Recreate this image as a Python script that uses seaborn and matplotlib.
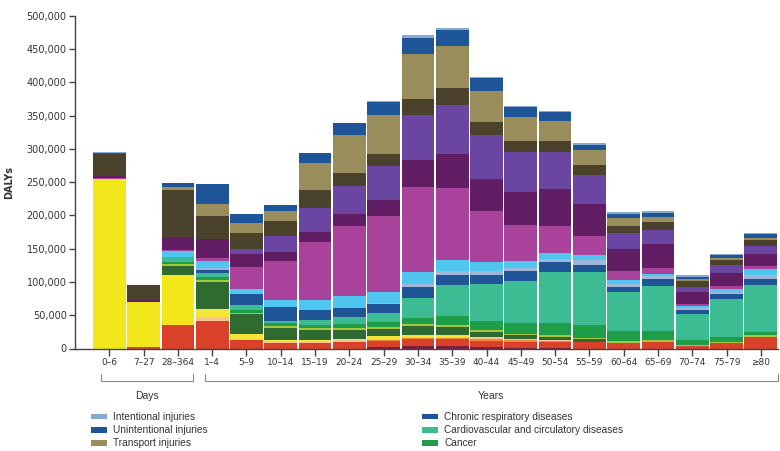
import pandas as pd
import seaborn as sns
import matplotlib.pyplot as plt
import matplotlib.transforms as mtransforms
from matplotlib.patches import Patch
from matplotlib.ticker import FuncFormatter

age_groups = ["0–6", "7–27", "28–364", "1–4", "5–9", "10–14", "15–19", "20–24",
              "25–29", "30–34", "35–39", "40–44", "45–49", "50–54", "55–59",
              "60–64", "65–69", "70–74", "75–79", "≥80"]

# causes, bottom of the stack first
causes = ["HIV/AIDS and tuberculosis",
          "Diarrhoea, lower respiratory and other common infections",
          "Neglected tropical diseases and malaria",
          "Maternal disorders",
          "Neonatal disorders",
          "Nutritional deficiencies",
          "Other infectious diseases",
          "Other communicable conditions",
          "Cancer",
          "Cardiovascular and circulatory diseases",
          "Chronic respiratory diseases",
          "Cirrhosis of the liver",
          "Digestive diseases",
          "Mental and behavioural disorders",
          "Diabetes, urogenital, blood and endocrine diseases",
          "Musculoskeletal disorders",
          "Other non-communicable diseases",
          "Transport injuries",
          "Unintentional injuries",
          "Intentional injuries"]

colours = ["#7d1d3f", "#d9412b", "#ef8a3c", "#f7c391", "#f2e71b", "#f4e53a",
           "#2f6b31", "#a8c63c", "#1f9e4a", "#3dbb92", "#1f5596", "#9db6d9",
           "#4ec6ef", "#a8429a", "#621e64", "#6a45a2", "#4a422a", "#9a8d5c",
           "#1e5598", "#88a9d2"]

hiv_tb = [0, 0, 0, 0, 0, 0, 0, 0, 2500, 4000, 4000, 2000, 1500, 1000, 0, 0, 0, 0, 0, 0]
common_infections = [0, 2500, 35000, 41500, 13500, 8500, 8500, 10500, 9000, 11000, 11000,
                     10000, 9000, 9000, 10000, 9000, 10000, 4500, 8500, 17500]
ntd_malaria = [0, 0, 0, 0, 0, 0, 0, 0, 1500, 1500, 1500, 2500, 2000, 2000, 0, 0, 0, 0, 0, 0]
maternal = [0, 0, 0, 6000, 1500, 1000, 2000, 2000, 2000, 1000, 1500, 2500, 1500, 1500,
            0, 0, 0, 0, 0, 0]
neonatal = [254000, 67000, 75000, 0, 0, 0, 0, 0, 0, 0, 0, 0, 0, 0, 0, 0, 0, 0, 0, 0]
nutritional = [0, 0, 0, 12500, 6500, 3500, 3000, 2500, 3500, 3500, 3000, 0, 0, 0, 0, 0,
               0, 0, 0, 0]
other_infectious = [0, 0, 13500, 40000, 30000, 18500, 15000, 13500, 11500, 12500, 11500,
                    8000, 6500, 4000, 4000, 0, 0, 0, 0, 0]
other_communicable = [0, 0, 3000, 3500, 2500, 2500, 2500, 2500, 2000, 3000, 2500, 2500,
                      2000, 2500, 2000, 2000, 2500, 1500, 1500, 2500]
cancer = [0, 0, 3000, 4000, 3500, 4000, 4000, 5500, 7500, 9500, 13500, 14500, 16500,
          18500, 20000, 15000, 13500, 6500, 7500, 5000]
cardiovascular = [0, 0, 7500, 6500, 7500, 4000, 7500, 11000, 13500, 30000, 46500, 55000,
                  62500, 76500, 79000, 59000, 67500, 40000, 56500, 70000]
chronic_respiratory = [0, 0, 0, 3500, 16500, 20000, 16000, 14000, 14000, 16500, 16000,
                       14000, 15000, 15000, 11000, 7500, 11500, 5000, 7500, 10000]
cirrhosis = [0, 0, 0, 4000, 0, 0, 0, 0, 1500, 4000, 5000, 5000, 5000, 4500, 6500, 5000,
             4000, 3500, 3500, 5000]
digestive = [0, 0, 9000, 10000, 8500, 11000, 15000, 17500, 16500, 18500, 16500, 14000,
             10000, 9000, 8500, 5000, 3500, 3000, 4000, 10000]
mental = [2000, 0, 2000, 5000, 32500, 59000, 86500, 104500, 113500, 127500, 109000,
          76000, 54000, 41000, 27500, 14000, 8500, 3500, 4500, 3500]
diabetes_urogenital = [2500, 3000, 20000, 27500, 20000, 13500, 14500, 19000, 24000, 40000,
                       51000, 49000, 50000, 55000, 49000, 33500, 35500, 17500, 20500, 19000]
musculoskeletal = [0, 0, 0, 0, 6500, 24000, 37000, 41000, 51500, 68500, 74000, 66000,
                   60000, 55500, 42500, 23500, 22000, 7500, 11000, 11500]
other_ncd = [33500, 22500, 70000, 34500, 24500, 22500, 26000, 20500, 18500, 24000, 25000,
             19000, 17000, 17000, 15000, 10500, 11500, 8500, 8500, 9500]
transport = [0, 0, 4000, 18000, 15500, 14000, 41500, 57000, 59000, 67500, 62500, 47500,
             35500, 30500, 22500, 12500, 7500, 3000, 3000, 3000]
unintentional = [1500, 0, 6500, 30000, 13500, 10000, 14500, 18000, 19500, 23500, 24000,
                 18500, 14500, 12500, 8500, 6000, 6000, 3500, 3500, 5000]
intentional = [1000, 0, 0, 0, 0, 0, 0, 0, 1500, 5000, 3500, 2500, 2500, 2500, 2500, 2500,
               2500, 2500, 2500, 2500]

series = [hiv_tb, common_infections, ntd_malaria, maternal, neonatal, nutritional,
          other_infectious, other_communicable, cancer, cardiovascular,
          chronic_respiratory, cirrhosis, digestive, mental, diabetes_urogenital,
          musculoskeletal, other_ncd, transport, unintentional, intentional]

legend_causes = [["Intentional injuries", "Unintentional injuries", "Transport injuries"],
                 ["Chronic respiratory diseases", "Cardiovascular and circulatory diseases",
                  "Cancer"]]

rows = []
for cause, vals in zip(causes, series):
    for age, v in zip(age_groups, vals):
        rows.append({"age": age, "cause": cause, "dalys": v})
df = pd.DataFrame(rows)
palette = dict(zip(causes, colours))

sns.set_style("ticks")
plt.rcParams["font.family"] = ["DejaVu Sans"]

fig = plt.figure(figsize=(7.8, 4.51), dpi=100)
ax = fig.add_axes([75 / 780, 1 - 348.5 / 451, 703 / 780, 332.8 / 451])

# seaborn stacks the last hue level at the bottom
sns.histplot(data=df, x="age", weights="dalys", hue="cause", hue_order=causes[::-1],
             multiple="stack", discrete=True, shrink=0.955, palette=palette,
             alpha=1, linewidth=0, legend=False, ax=ax)

ax.set_xlim(-1.0, 19.5)
ax.set_ylim(0, 500000)
ax.set_yticks(range(0, 500001, 50000))
ax.yaxis.set_major_formatter(FuncFormatter(lambda v, p: f"{int(v):,}"))
ax.set_xticks(range(len(age_groups)))
ax.set_xticklabels(age_groups)
ax.set_xlabel("")
ax.set_ylabel("DALYs", fontsize=7, fontweight="bold", color="#333333")
ax.yaxis.set_label_coords(-0.087, 0.5)
ax.tick_params(axis="y", labelsize=7, length=4, width=1, color="#444444",
               labelcolor="#333333", pad=2)
ax.tick_params(axis="x", labelsize=6.5, length=5, width=1, color="#444444",
               labelcolor="#333333", pad=2)
sns.despine(ax=ax)
for side in ("left", "bottom"):
    ax.spines[side].set_color("#444444")
    ax.spines[side].set_linewidth(1)

# Days / Years brackets under the axis
trans = mtransforms.blended_transform_factory(ax.transData, ax.transAxes)
y_top, y_bot, y_lab = -0.077, -0.098, -0.143
for x0, x1, label in [(-0.25, 2.45, "Days"), (2.78, 19.5, "Years")]:
    ax.plot([x0, x0, x1, x1], [y_top, y_bot, y_bot, y_top], transform=trans,
            clip_on=False, color="#8a8a8a", lw=0.8)
    ax.text((x0 + x1) / 2, y_lab, label, transform=trans, ha="center", va="center",
            fontsize=7.5, family="Liberation Sans", color="#333333")

# legend (only the visible part of the original key)
for col, xpos in zip(legend_causes, [91 / 780, 422 / 780]):
    handles = [Patch(facecolor=palette[c], edgecolor="none", label=c) for c in col]
    fig.legend(handles=handles, loc="upper left", bbox_to_anchor=(xpos, 1 - 412 / 451),
               frameon=False, borderpad=0, borderaxespad=0, handlelength=1.6,
               handleheight=0.5, handletextpad=0.6, labelspacing=0.32,
               prop={"family": "Liberation Sans", "size": 7.3}, labelcolor="#333333")

fig.savefig("out.png", dpi=100)
